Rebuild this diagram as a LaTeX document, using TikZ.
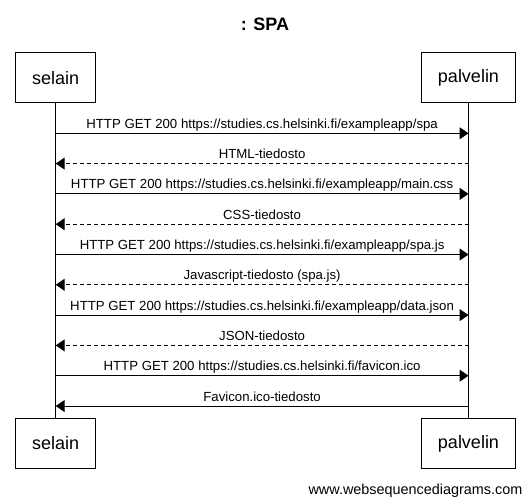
\documentclass[tikz,border=0pt]{standalone}
\usepackage{fontspec}
\setmainfont{Liberation Sans}
\usetikzlibrary{arrows.meta}
\begin{document}
\begin{tikzpicture}[x=1pt,y=-1pt,
  actor/.style={draw,line width=1pt,minimum height=50pt,inner sep=0pt,font=\fontsize{18}{20}\selectfont},
  lifeline/.style={line width=1pt},
  msg/.style={line width=1pt,-{Triangle[length=9pt,width=12pt]}},
  reply/.style={msg,dash pattern=on 4pt off 3pt},
  lbl/.style={anchor=base,inner sep=0pt,font=\fontsize{13.2}{15}\selectfont}]
\useasboundingbox (0,0) rectangle (530,502);
\fill[white] (0,0) rectangle (530,502);
\node[font=\bfseries\fontsize{18}{20}\selectfont] (title) at (265,24.5) {: SPA};
\node[actor,minimum width=80pt] (s1) at (55.7,78) {selain};
\node[actor,minimum width=94pt] (p1) at (468.5,78) {palvelin};
\node[actor,minimum width=80pt] (s2) at (55.7,443.5) {selain};
\node[actor,minimum width=94pt] (p2) at (468.5,443.5) {palvelin};
\draw[lifeline] (s1.south) -- (s2.north);
\draw[lifeline] (p1.south) -- (p2.north);
\foreach \i/\t/\dir in {
 0/{HTTP GET 200 https://studies.cs.helsinki.fi/exampleapp/spa}/r,
 1/{HTML-tiedosto}/l,
 2/{HTTP GET 200 https://studies.cs.helsinki.fi/exampleapp/main.css}/r,
 3/{CSS-tiedosto}/l,
 4/{HTTP GET 200 https://studies.cs.helsinki.fi/exampleapp/spa.js}/r,
 5/{Javascript-tiedosto (spa.js)}/l,
 6/{HTTP GET 200 https://studies.cs.helsinki.fi/exampleapp/data.json}/r,
 7/{JSON-tiedosto}/l,
 8/{HTTP GET 200 https://studies.cs.helsinki.fi/favicon.ico}/r,
 9/{Favicon.ico-tiedosto}/f}{
  \pgfmathsetmacro{\yy}{133.3+30.3*\i}
  \coordinate (a\i) at (55.7,\yy);
  \coordinate (b\i) at (468.5,\yy);
  \node[lbl] (t\i) at (262.1,\yy-5) {\t};
  \if\dir r \draw[msg] (a\i) -- (b\i); \fi
  \if\dir l \draw[reply] (b\i) -- (a\i); \fi
  \if\dir f \draw[msg] (b\i) -- (a\i); \fi
}
\node[anchor=base east,inner sep=0pt,font=\fontsize{14.4}{16}\selectfont] (foot) at (522.5,494) {www.websequencediagrams.com};
\end{tikzpicture}
\end{document}
